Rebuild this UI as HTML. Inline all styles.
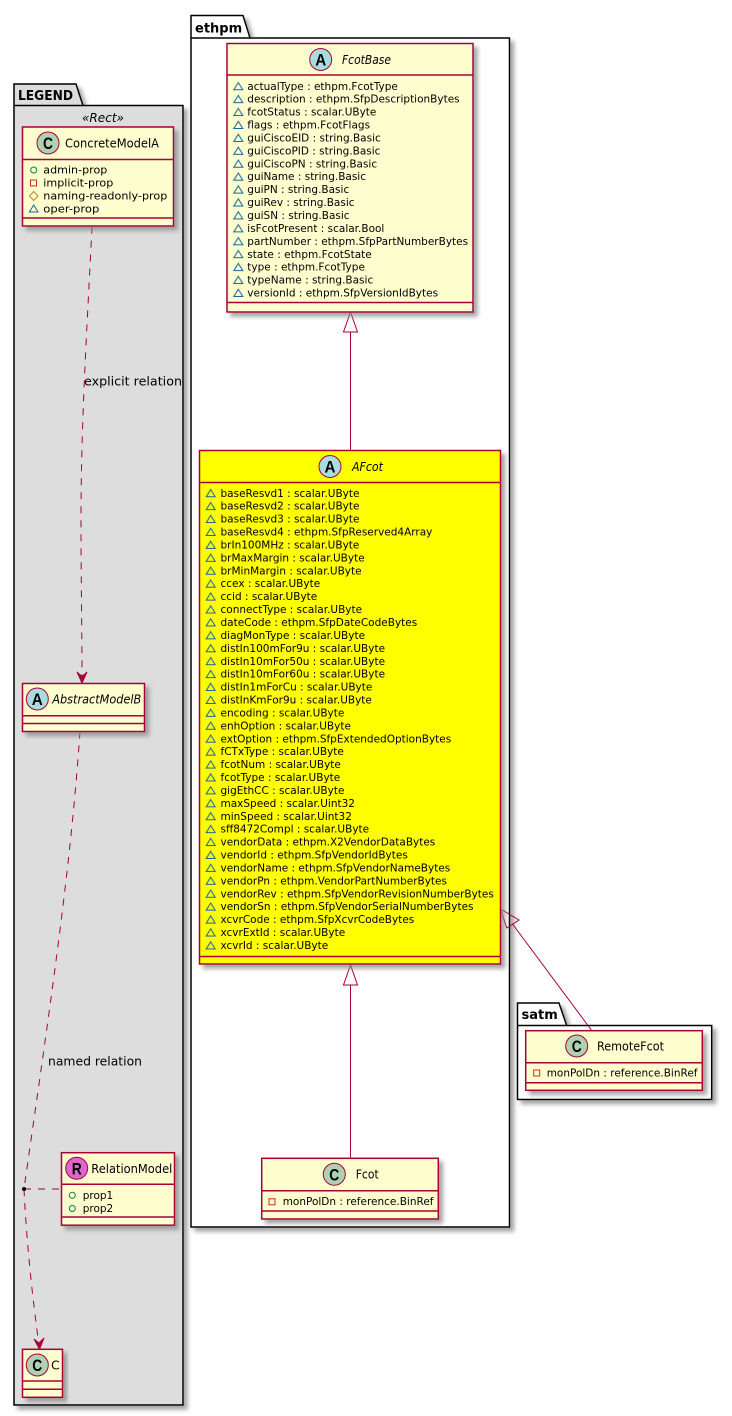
<!DOCTYPE html>
<html><head><meta charset="utf-8"><style>
html,body{margin:0;padding:0;background:#fff}
svg{display:block}
text{font-family:"DejaVu Sans","Liberation Sans",sans-serif;fill:#000}
.r{font-size:10.5px}
.n{font-size:12.5px}
.i{font-style:italic}
.p{font-size:13px;font-weight:bold}
.l{font-size:12px}
.L{font-family:"Liberation Sans",sans-serif;font-weight:bold;font-size:17px;text-anchor:middle}
.c{fill:#FEFECE;stroke:#A80036;stroke-width:1.5}
.s{stroke:#A80036;stroke-width:1.5;fill:none}
.k{stroke:#000;stroke-width:1.5}
.d{stroke:#A80036;stroke-width:1;fill:none;stroke-dasharray:7 7}
.u{stroke:#A80036;stroke-width:1;fill:none}
</style></head><body>
<svg width="732" height="1416" viewBox="0 0 732 1416" xmlns="http://www.w3.org/2000/svg">
<defs>
<filter id="sh" x="-10%" y="-10%" width="125%" height="125%"><feGaussianBlur in="SourceAlpha" stdDeviation="2" result="b"/><feOffset in="b" dx="4" dy="4" result="o"/><feColorMatrix in="o" type="matrix" values="0 0 0 0 .25 0 0 0 0 .25 0 0 0 0 .25 0 0 0 .75 0" result="c"/><feMerge><feMergeNode in="c"/><feMergeNode in="SourceGraphic"/></feMerge></filter>
<pattern id="t1" patternUnits="userSpaceOnUse" x="232.300" y="81.300" width="12" height="12.920"><polygon points="6,1.200 10.500,8.500 1.500,8.500" fill="none" stroke="#1963A0"/></pattern>
<pattern id="t2" patternUnits="userSpaceOnUse" x="204.700" y="488.300" width="12" height="12.920"><polygon points="6,1.200 10.500,8.500 1.500,8.500" fill="none" stroke="#1963A0"/></pattern>
</defs>

<!-- LEGEND -->
<path class="k" filter="url(#sh)" fill="#DDDDDD" d="M14 105.500V84H76L83 105.500H183V1405H14Z"/>
<path class="k" fill="none" d="M14 105.500H83"/>
<text class="p" x="18" y="100" textLength="55" lengthAdjust="spacingAndGlyphs">LEGEND</text>
<text class="l i" x="82" y="122" textLength="42" lengthAdjust="spacingAndGlyphs">«Rect»</text>

<!-- ethpm -->
<path class="k" filter="url(#sh)" fill="#fff" d="M191 38V15.500H243L250 38H509.500V1227H191Z"/>
<path class="k" fill="none" d="M191 38H250"/>
<text class="p" x="195" y="32.500">ethpm</text>

<!-- satm -->
<path class="k" filter="url(#sh)" fill="#fff" d="M517.500 1025.500V1003H559L566.700 1025.500H711.700V1099.500H517.500Z"/>
<path class="k" fill="none" d="M517.500 1025.500H566.700"/>
<text class="p" x="521.500" y="1019">satm</text>

<!-- Legend connectors -->
<path class="d" d="M92 226.500C87 330 81 420 81 520C81 580 82 630 82 676"/>
<path d="M82 683L77 672L82 676.500L87 672Z" fill="#A80036" stroke="#A80036"/>
<path class="d" d="M80 731.500C70 880 45 1040 24 1189"/>
<path class="d" d="M24 1189C27 1250 33 1300 38.500 1342"/>
<path d="M39.500 1349.300L34 1339L39 1343L44 1338Z" fill="#A80036" stroke="#A80036"/>
<path class="d" d="M24 1189H61"/>
<circle cx="24" cy="1189" r="2" fill="#000"/>
<text class="l" x="84" y="385.500" textLength="98" lengthAdjust="spacingAndGlyphs">explicit relation</text>
<text class="l" x="48" y="1065.500" textLength="94" lengthAdjust="spacingAndGlyphs">named relation</text>

<!-- ConcreteModelA -->
<rect class="c" filter="url(#sh)" x="22.500" y="127" width="151" height="99"/>
<path class="s" d="M22.500 159.500H173.500M22.500 218H173.500"/>
<circle cx="48" cy="143" r="11" fill="#ADD1B2" stroke="#A80036"/>
<text class="L" x="48" y="149" textLength="10" lengthAdjust="spacingAndGlyphs">C</text>
<text class="n" x="65" y="147.500" textLength="94" lengthAdjust="spacingAndGlyphs">ConcreteModelA</text>
<circle cx="33.700" cy="170" r="3" fill="none" stroke="#038048"/>
<rect x="30.500" y="180" width="6" height="6" fill="none" stroke="#C82930"/>
<polygon points="33.700,191.500 38,196 33.700,200.500 29.400,196" fill="none" stroke="#B38D22"/>
<polygon points="33.700,205 38,212 29.400,212" fill="none" stroke="#1963A0"/>
<text class="r" x="43.300" y="173.500" textLength="64" lengthAdjust="spacingAndGlyphs">admin-prop</text>
<text class="r" x="43.300" y="186.500" textLength="70" lengthAdjust="spacingAndGlyphs">implicit-prop</text>
<text class="r" x="43.300" y="199.500" textLength="124" lengthAdjust="spacingAndGlyphs">naming-readonly-prop</text>
<text class="r" x="43.300" y="212.500" textLength="56" lengthAdjust="spacingAndGlyphs">oper-prop</text>

<!-- AbstractModelB -->
<rect class="c" filter="url(#sh)" x="22.500" y="683.500" width="122" height="48"/>
<path class="s" d="M22.500 715.700H144.500M22.500 723.500H144.500"/>
<circle cx="37.300" cy="699" r="11" fill="#A9DCDF" stroke="#A80036"/>
<text class="L" x="37.300" y="705" textLength="11" lengthAdjust="spacingAndGlyphs">A</text>
<text class="n i" x="52.300" y="703.500" textLength="89" lengthAdjust="spacingAndGlyphs">AbstractModelB</text>

<!-- RelationModel -->
<rect class="c" filter="url(#sh)" x="61.500" y="1152.700" width="113" height="72.500"/>
<path class="s" d="M61.500 1184.300H174.500M61.500 1217H174.500"/>
<circle cx="76.700" cy="1168.300" r="11" fill="#DD66CC" stroke="#A80036"/>
<text class="L" x="76.700" y="1174.300" textLength="10" lengthAdjust="spacingAndGlyphs">R</text>
<text class="n" x="91.300" y="1172.800" textLength="81" lengthAdjust="spacingAndGlyphs">RelationModel</text>
<circle cx="72.300" cy="1195.300" r="3" fill="none" stroke="#038048"/>
<circle cx="72.300" cy="1208.500" r="3" fill="none" stroke="#038048"/>
<text class="r" x="82.700" y="1198.800">prop1</text>
<text class="r" x="82.700" y="1212">prop2</text>

<!-- C -->
<rect class="c" filter="url(#sh)" x="22.500" y="1349.300" width="40" height="48"/>
<path class="s" d="M22.500 1381H62.500M22.500 1389.300H62.500"/>
<circle cx="37.300" cy="1365" r="11" fill="#ADD1B2" stroke="#A80036"/>
<text class="L" x="37.300" y="1371" textLength="10" lengthAdjust="spacingAndGlyphs">C</text>
<text class="n" x="51" y="1369.500">C</text>

<!-- inheritance connectors -->
<path class="u" d="M350.500 450V332"/>
<polygon class="u" points="350.500,312 343.500,332 357.500,332"/>
<path class="u" d="M350.500 1158V985"/>
<polygon class="u" points="350.500,965 343.500,985 357.500,985"/>
<path class="u" d="M591.700 1030.500L512.500 924"/>
<polygon class="u" points="500.500,909 506.700,928 519,920"/>

<!-- FcotBase -->
<rect class="c" filter="url(#sh)" x="227" y="43.500" width="246" height="268.500"/>
<path class="s" d="M227 75H473M227 302.500H473"/>
<circle cx="320.700" cy="59.500" r="11" fill="#A9DCDF" stroke="#A80036"/>
<text class="L" x="320.700" y="65.500" textLength="11" lengthAdjust="spacingAndGlyphs">A</text>
<text class="n i" x="342" y="64" textLength="49" lengthAdjust="spacingAndGlyphs">FcotBase</text>
<rect x="232.300" y="81.300" width="12" height="219.640" fill="url(#t1)"/>
<text class="r"><tspan x="247.300" y="89.800">actualType : ethpm.FcotType</tspan><tspan x="247.300" dy="12.920">description : ethpm.SfpDescriptionBytes</tspan><tspan x="247.300" dy="12.920">fcotStatus : scalar.UByte</tspan><tspan x="247.300" dy="12.920">flags : ethpm.FcotFlags</tspan><tspan x="247.300" dy="12.920">guiCiscoEID : string.Basic</tspan><tspan x="247.300" dy="12.920">guiCiscoPID : string.Basic</tspan><tspan x="247.300" dy="12.920">guiCiscoPN : string.Basic</tspan><tspan x="247.300" dy="12.920">guiName : string.Basic</tspan><tspan x="247.300" dy="12.920">guiPN : string.Basic</tspan><tspan x="247.300" dy="12.920">guiRev : string.Basic</tspan><tspan x="247.300" dy="12.920">guiSN : string.Basic</tspan><tspan x="247.300" dy="12.920">isFcotPresent : scalar.Bool</tspan><tspan x="247.300" dy="12.920">partNumber : ethpm.SfpPartNumberBytes</tspan><tspan x="247.300" dy="12.920">state : ethpm.FcotState</tspan><tspan x="247.300" dy="12.920">type : ethpm.FcotType</tspan><tspan x="247.300" dy="12.920">typeName : string.Basic</tspan><tspan x="247.300" dy="12.920">versionId : ethpm.SfpVersionIdBytes</tspan></text>

<!-- AFcot -->
<rect class="c" style="fill:#FFFF00" filter="url(#sh)" x="199.500" y="450.500" width="301" height="513.500"/>
<path class="s" d="M199.500 482.500H500.500M199.500 956.500H500.500"/>
<circle cx="330" cy="466.500" r="11" fill="#A9DCDF" stroke="#A80036"/>
<text class="L" x="330" y="472.500" textLength="11" lengthAdjust="spacingAndGlyphs">A</text>
<text class="n i" x="352" y="471" textLength="31" lengthAdjust="spacingAndGlyphs">AFcot</text>
<rect x="204.700" y="488.300" width="12" height="465.120" fill="url(#t2)"/>
<text class="r"><tspan x="220.500" y="496.800">baseResvd1 : scalar.UByte</tspan><tspan x="220.500" dy="12.920">baseResvd2 : scalar.UByte</tspan><tspan x="220.500" dy="12.920">baseResvd3 : scalar.UByte</tspan><tspan x="220.500" dy="12.920">baseResvd4 : ethpm.SfpReserved4Array</tspan><tspan x="220.500" dy="12.920">brIn100MHz : scalar.UByte</tspan><tspan x="220.500" dy="12.920">brMaxMargin : scalar.UByte</tspan><tspan x="220.500" dy="12.920">brMinMargin : scalar.UByte</tspan><tspan x="220.500" dy="12.920">ccex : scalar.UByte</tspan><tspan x="220.500" dy="12.920">ccid : scalar.UByte</tspan><tspan x="220.500" dy="12.920">connectType : scalar.UByte</tspan><tspan x="220.500" dy="12.920">dateCode : ethpm.SfpDateCodeBytes</tspan><tspan x="220.500" dy="12.920">diagMonType : scalar.UByte</tspan><tspan x="220.500" dy="12.920">distIn100mFor9u : scalar.UByte</tspan><tspan x="220.500" dy="12.920">distIn10mFor50u : scalar.UByte</tspan><tspan x="220.500" dy="12.920">distIn10mFor60u : scalar.UByte</tspan><tspan x="220.500" dy="12.920">distIn1mForCu : scalar.UByte</tspan><tspan x="220.500" dy="12.920">distInKmFor9u : scalar.UByte</tspan><tspan x="220.500" dy="12.920">encoding : scalar.UByte</tspan><tspan x="220.500" dy="12.920">enhOption : scalar.UByte</tspan><tspan x="220.500" dy="12.920">extOption : ethpm.SfpExtendedOptionBytes</tspan><tspan x="220.500" dy="12.920">fCTxType : scalar.UByte</tspan><tspan x="220.500" dy="12.920">fcotNum : scalar.UByte</tspan><tspan x="220.500" dy="12.920">fcotType : scalar.UByte</tspan><tspan x="220.500" dy="12.920">gigEthCC : scalar.UByte</tspan><tspan x="220.500" dy="12.920">maxSpeed : scalar.Uint32</tspan><tspan x="220.500" dy="12.920">minSpeed : scalar.Uint32</tspan><tspan x="220.500" dy="12.920">sff8472Compl : scalar.UByte</tspan><tspan x="220.500" dy="12.920">vendorData : ethpm.X2VendorDataBytes</tspan><tspan x="220.500" dy="12.920">vendorId : ethpm.SfpVendorIdBytes</tspan><tspan x="220.500" dy="12.920">vendorName : ethpm.SfpVendorNameBytes</tspan><tspan x="220.500" dy="12.920">vendorPn : ethpm.VendorPartNumberBytes</tspan><tspan x="220.500" dy="12.920">vendorRev : ethpm.SfpVendorRevisionNumberBytes</tspan><tspan x="220.500" dy="12.920">vendorSn : ethpm.SfpVendorSerialNumberBytes</tspan><tspan x="220.500" dy="12.920">xcvrCode : ethpm.SfpXcvrCodeBytes</tspan><tspan x="220.500" dy="12.920">xcvrExtId : scalar.UByte</tspan><tspan x="220.500" dy="12.920">xcvrId : scalar.UByte</tspan></text>

<!-- Fcot -->
<rect class="c" filter="url(#sh)" x="261.700" y="1158.300" width="176.600" height="60.700"/>
<path class="s" d="M261.700 1190.700H438.300M261.700 1211H438.300"/>
<circle cx="334.300" cy="1174.300" r="11" fill="#ADD1B2" stroke="#A80036"/>
<text class="L" x="334.300" y="1180.300" textLength="10" lengthAdjust="spacingAndGlyphs">C</text>
<text class="n" x="355.700" y="1178.500" textLength="23" lengthAdjust="spacingAndGlyphs">Fcot</text>
<rect x="269" y="1198.800" width="6" height="6" fill="none" stroke="#C82930"/>
<text class="r" x="282.700" y="1205.200">monPolDn : reference.BinRef</text>

<!-- RemoteFcot -->
<rect class="c" filter="url(#sh)" x="525.700" y="1030.700" width="176.600" height="59.600"/>
<path class="s" d="M525.700 1062.700H702.300M525.700 1082.700H702.300"/>
<circle cx="576.700" cy="1046" r="11" fill="#ADD1B2" stroke="#A80036"/>
<text class="L" x="576.700" y="1052" textLength="10" lengthAdjust="spacingAndGlyphs">C</text>
<text class="n" x="597" y="1050.500" textLength="67" lengthAdjust="spacingAndGlyphs">RemoteFcot</text>
<rect x="533.700" y="1070" width="6" height="6" fill="none" stroke="#C82930"/>
<text class="r" x="546.700" y="1076.500">monPolDn : reference.BinRef</text>
</svg>
</body></html>
